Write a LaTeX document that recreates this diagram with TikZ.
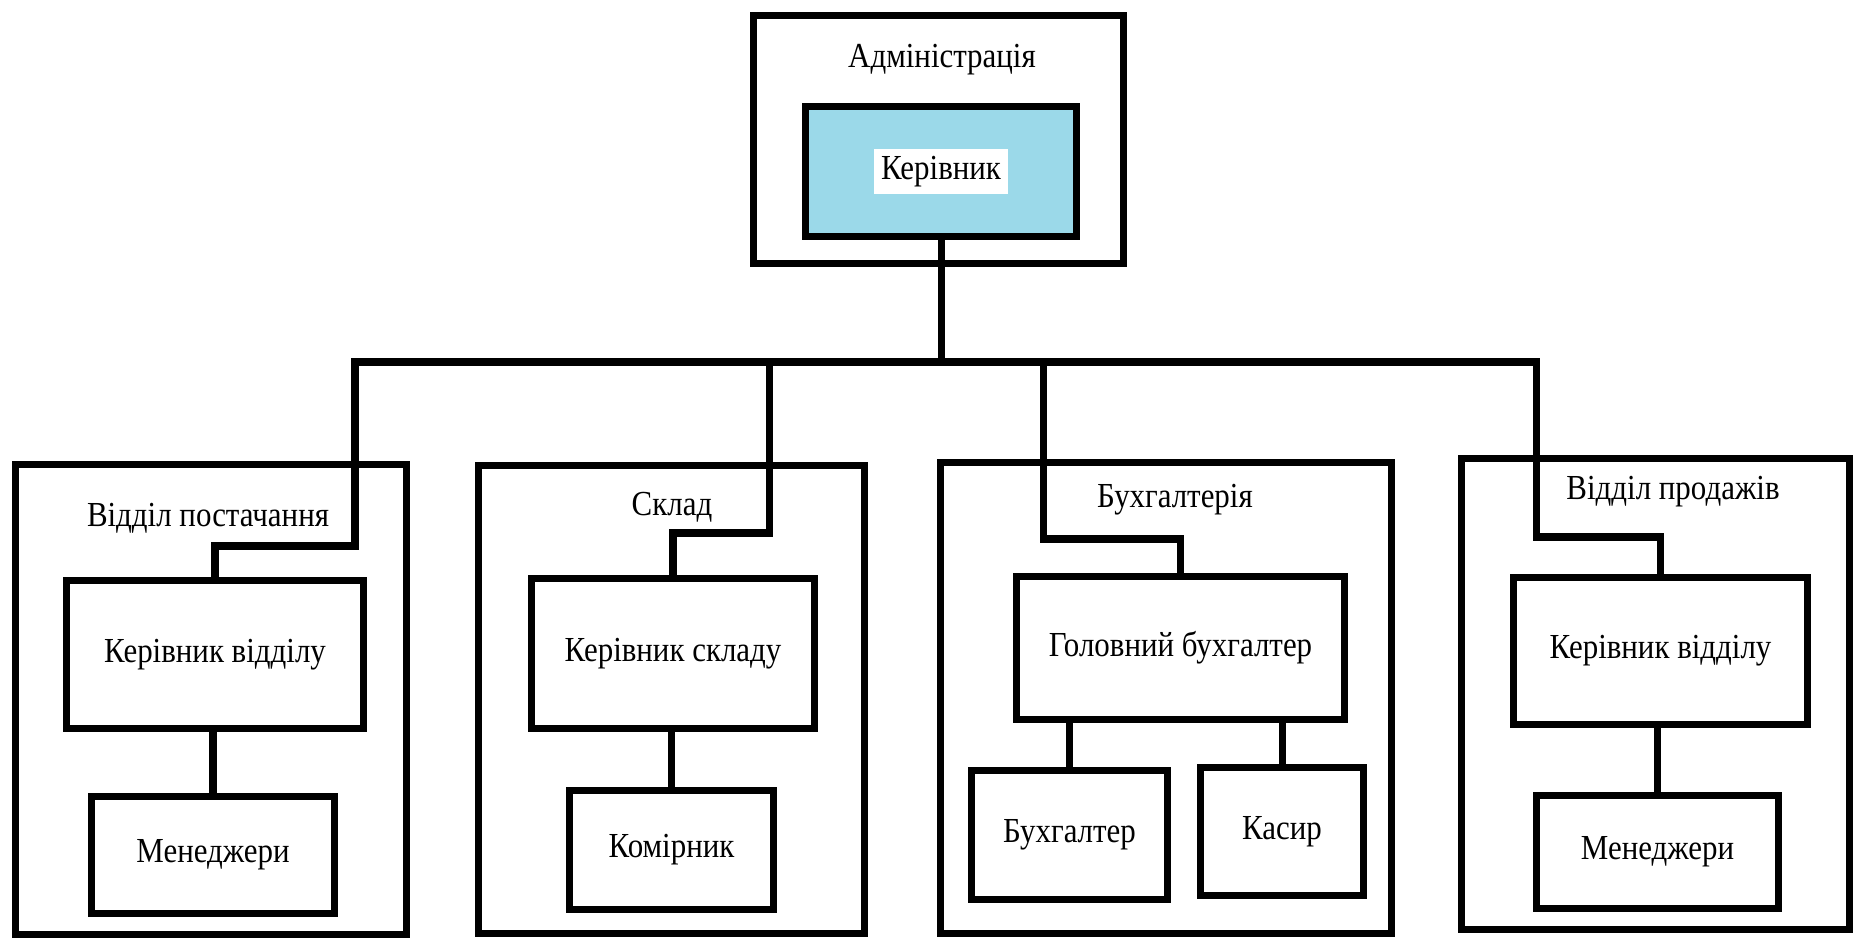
\documentclass[tikz,border=0pt]{standalone}
\usepackage{fontspec}
\setmainfont[FakeStretch=0.88]{Liberation Serif}
\usepackage{tikz}
\definecolor{bossblue}{RGB}{155,217,233}
\tikzstyle{unit}=[draw, line width=2pt, rectangle, inner sep=0pt]
\tikzstyle{post}=[draw, line width=2pt, rectangle, fill=white, font=\fontsize{10}{12}\selectfont]
\tikzstyle{title}=[inner sep=1pt, font=\fontsize{10}{12}\selectfont]
\tikzstyle{link}=[draw=black, line width=2pt, line cap=rect]

\begin{document}
\begin{tikzpicture}
		   \useasboundingbox (0,0) rectangle (18.63,-9.41);
		   \begin{scope}
			   % administration
			   \node (adm) at (9.385,-1.395)[unit, minimum width=3.70cm, minimum height=2.48cm] {};
			   \node (admt) at (9.42,-0.60)[title] {Адміністрація};
			   \node (boss) at (9.41,-1.715)[post, fill=bossblue, minimum width=2.71cm, minimum height=1.30cm] {\setlength\fboxsep{2pt}\colorbox{white}{Керівник}};
			   % departments
			   \node (sup) at (2.11,-6.995)[unit, minimum width=3.91cm, minimum height=4.70cm] {};
			   \node (supt) at (2.08,-5.18)[title] {Відділ постачання};
			   \node (suphead) at (2.15,-6.545)[post, minimum width=2.97cm, minimum height=1.48cm] {Керівник відділу};
			   \node (supmgr) at (2.13,-8.55)[post, minimum width=2.43cm, minimum height=1.17cm] {Менеджери};
			   \node (wh) at (6.715,-6.995)[unit, minimum width=3.86cm, minimum height=4.68cm] {};
			   \node (wht) at (6.72,-5.07)[title] {Склад};
			   \node (whhead) at (6.73,-6.535)[post, minimum width=2.83cm, minimum height=1.50cm] {Керівник складу};
			   \node (whkeep) at (6.715,-8.50)[post, minimum width=2.04cm, minimum height=1.19cm] {Комірник};
			   \node (acc) at (11.66,-6.98)[unit, minimum width=4.51cm, minimum height=4.71cm] {};
			   \node (acct) at (11.75,-5.00)[title] {Бухгалтерія};
			   \node (chief) at (11.805,-6.48)[post, minimum width=3.28cm, minimum height=1.43cm] {Головний бухгалтер};
			   \node (bk) at (10.695,-8.35)[post, minimum width=1.96cm, minimum height=1.29cm] {Бухгалтер};
			   \node (cash) at (12.82,-8.315)[post, minimum width=1.63cm, minimum height=1.28cm] {Касир};
			   \node (sale) at (16.555,-6.94)[unit, minimum width=3.88cm, minimum height=4.71cm] {};
			   \node (salet) at (16.73,-4.92)[title] {Відділ продажів};
			   \node (salehead) at (16.605,-6.51)[post, minimum width=2.94cm, minimum height=1.47cm] {Керівник відділу};
			   \node (salemgr) at (16.575,-8.52)[post, minimum width=2.42cm, minimum height=1.13cm] {Менеджери};
		   \end{scope}
		   \begin{scope}
			   \coordinate (b1) at (3.55,-3.62);
			   \coordinate (b2) at (7.69,-3.62);
			   \coordinate (b3) at (10.43,-3.62);
			   \coordinate (b4) at (15.36,-3.62);
			   \coordinate (k1) at (3.55,-5.46);
			   \coordinate (k2) at (7.69,-5.33);
			   \coordinate (k3) at (10.43,-5.39);
			   \coordinate (k4) at (15.36,-5.37);
			   \draw [link] (boss.south) -- (boss.south |- b1);
			   \draw [link] (b1) -- (b4);
			   \draw [link] (b1) -- (k1) -| (suphead.north);
			   \draw [link] (b2) -- (k2) -| (whhead.north);
			   \draw [link] (b3) -- (k3) -| (chief.north);
			   \draw [link] (b4) -- (k4) -| (salehead.north);
			   \draw [link] (supmgr.north) -- (supmgr.north |- suphead.south);
			   \draw [link] (whkeep.north) -- (whkeep.north |- whhead.south);
			   \draw [link] (bk.north) -- (bk.north |- chief.south);
			   \draw [link] (cash.north) -- (cash.north |- chief.south);
			   \draw [link] (salemgr.north) -- (salemgr.north |- salehead.south);
		   \end{scope}
	   \end{tikzpicture}
\end{document}
